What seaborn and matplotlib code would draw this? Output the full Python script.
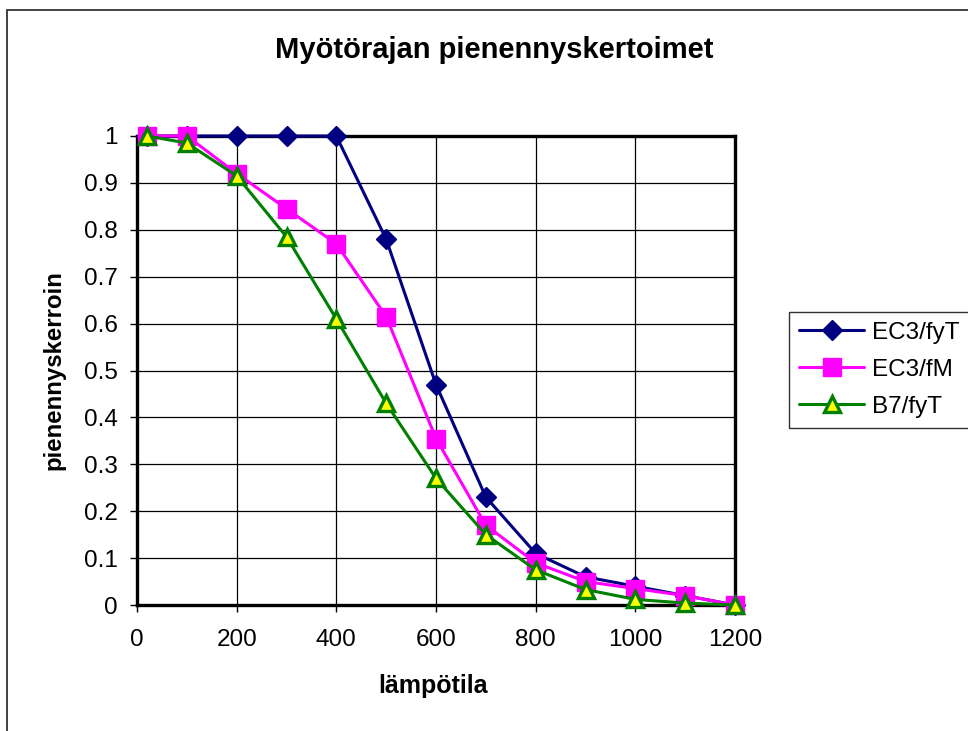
import matplotlib
matplotlib.use("Agg")
import matplotlib.pyplot as plt
import seaborn as sns
import pandas as pd
from matplotlib.patches import Rectangle

temps = [20, 100, 200, 300, 400, 500, 600, 700, 800, 900, 1000, 1100, 1200]
ec3_fyT = [1.0, 1.0, 1.0, 1.0, 1.0, 0.78, 0.47, 0.23, 0.11, 0.06, 0.04, 0.02, 0.0]
ec3_fM = [1.0, 1.0, 0.92, 0.845, 0.77, 0.615, 0.355, 0.17, 0.09, 0.05, 0.035, 0.02, 0.0]
b7_fyT = [1.0, 0.985, 0.915, 0.785, 0.61, 0.43, 0.27, 0.15, 0.075, 0.033, 0.012, 0.004, 0.0]
series_names = ["EC3/fyT", "EC3/fM", "B7/fyT"]
x_ticks = [0, 200, 400, 600, 800, 1000, 1200]
y_ticks = [0, 0.1, 0.2, 0.3, 0.4, 0.5, 0.6, 0.7, 0.8, 0.9, 1]
y_ticklabels = ["0", "0.1", "0.2", "0.3", "0.4", "0.5", "0.6", "0.7", "0.8", "0.9", "1"]

sns.set_style("white")
plt.rcParams["font.family"] = ["Liberation Sans", "DejaVu Sans"]
plt.rcParams["text.color"] = "black"

W, H = 968, 731
fig = plt.figure(figsize=(W/100, H/100), dpi=100)
ax = fig.add_axes([137/W, 1-605/H, (735-137)/W, (605-136)/H])

styles = [
    dict(color="#000080", marker="D", markersize=10.5, markerfacecolor="#000080", markeredgecolor="#000080", markeredgewidth=1),
    dict(color="#FF00FF", marker="s", markersize=12.5, markerfacecolor="#FF00FF", markeredgecolor="#FF00FF", markeredgewidth=1),
    dict(color="#008000", marker="^", markersize=12, markerfacecolor="#FFFF00", markeredgecolor="#008000", markeredgewidth=2.4),
]
for name, vals, st in zip(series_names, [ec3_fyT, ec3_fM, b7_fyT], styles):
    df = pd.DataFrame({"x": temps, "y": vals})
    sns.lineplot(data=df, x="x", y="y", ax=ax, label=name, linewidth=2.2,
                 clip_on=False, zorder=3, **st)

ax.set_xlim(0, 1200)
ax.set_ylim(0, 1)
ax.set_xticks(x_ticks)
ax.set_xticklabels([str(t) for t in x_ticks])
ax.set_yticks(y_ticks)
ax.set_yticklabels(y_ticklabels)
ax.grid(True, color="black", linewidth=0.9)
ax.set_axisbelow(True)
for s in ax.spines.values():
    s.set_visible(True)
    s.set_color("black")
    s.set_linewidth(2.4)
ax.tick_params(axis="both", labelsize=17.5, direction="out", length=5, width=1,
               colors="black", left=True, bottom=True)
ax.tick_params(axis="y", pad=9)
ax.tick_params(axis="x", pad=12)

ax.set_xlabel("")
ax.set_ylabel("")
fig.text(433/W, 1-686/H, "lämpötila", ha="center", va="center",
         fontsize=18, fontweight="bold", color="black")
fig.text(54/W, 1-370/H, "pienennyskerroin", ha="center", va="center",
         rotation=90, fontsize=17.3, fontweight="bold", color="black")
fig.text(494/W, 1-50/H, "Myötörajan pienennyskertoimet",
         ha="center", va="center", fontsize=21, fontweight="bold", color="black")

leg = ax.legend(loc="upper left", bbox_to_anchor=(789/W, 1-312/H),
                bbox_transform=fig.transFigure, frameon=True, fontsize=17.5,
                fancybox=False, edgecolor="black", handlelength=2.7,
                borderpad=0.4, labelspacing=0.62, handletextpad=0.3,
                borderaxespad=0)
leg.get_frame().set_linewidth(1.0)
for t in leg.get_texts():
    t.set_color("black")

fig.patches.append(Rectangle((7/W, -0.1), 1.2, (1-10/H) + 0.1, transform=fig.transFigure,
                             fill=False, edgecolor="#333333", linewidth=1.3))

fig.savefig("out.png", dpi=100)
